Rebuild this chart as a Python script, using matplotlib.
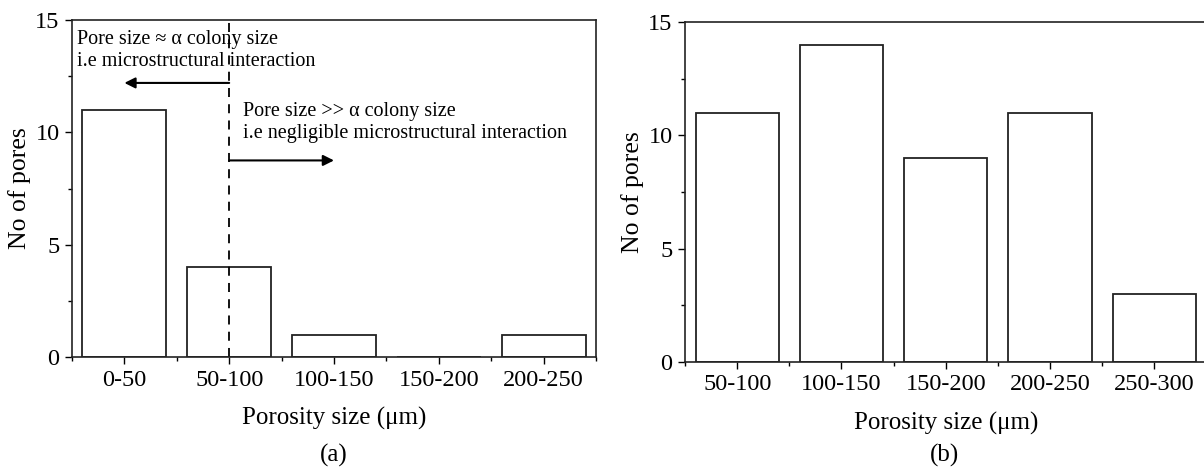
import matplotlib
matplotlib.use('Agg')
import matplotlib.pyplot as plt
from matplotlib.ticker import MultipleLocator, FixedLocator

plt.rcParams['font.family'] = ['Liberation Serif', 'DejaVu Serif']

# data
cats_a = ['0-50', '50-100', '100-150', '150-200', '200-250']
pores_a = [11, 4, 1, 0, 1]

cats_b = ['50-100', '100-150', '150-200', '200-250', '250-300']
pores_b = [11, 14, 9, 11, 3]

divider_x = 1
arrow_left_y = 12.2
arrow_right_y = 8.75

fig = plt.figure(figsize=(12.04, 4.70), dpi=100)

ax1 = fig.add_axes([0.0598, 0.2404, 0.4352, 0.717])
ax2 = fig.add_axes([0.569, 0.2298, 0.433, 0.723])


def style(ax, cats, vals):
    x = range(len(cats))
    ax.bar(x, vals, width=0.8, color='white', edgecolor='#222222', linewidth=1.3)
    ax.set_xlim(-0.5, len(cats) - 0.5)
    ax.set_ylim(0, 15)
    ax.set_xticks(list(x))
    ax.set_xticklabels(cats)
    ax.xaxis.set_minor_locator(FixedLocator([i + 0.5 for i in range(-1, len(cats))]))
    ax.yaxis.set_major_locator(MultipleLocator(5))
    ax.yaxis.set_minor_locator(MultipleLocator(2.5))
    ax.tick_params(which='major', direction='out', length=5, width=1, labelsize=17.5, pad=4)
    ax.tick_params(which='minor', direction='out', length=3, width=1)
    for s in ax.spines.values():
        s.set_linewidth(1.2)
        s.set_color('#222222')
    ax.set_xlabel('Porosity size (\u03bcm)', fontsize=18, labelpad=12)
    ax.set_ylabel('No of pores', fontsize=18.5, labelpad=3)


style(ax1, cats_a, pores_a)
style(ax2, cats_b, pores_b)

# divider and annotations in panel (a)
ax1.axvline(divider_x, color='black', linestyle=(0, (5, 4)), linewidth=1.3)
ax1.annotate('', xy=(0.0, arrow_left_y), xytext=(divider_x, arrow_left_y),
             arrowprops=dict(arrowstyle='-|>', color='black', lw=1.5, mutation_scale=16, shrinkA=0, shrinkB=0))
ax1.annotate('', xy=(2.0, arrow_right_y), xytext=(divider_x, arrow_right_y),
             arrowprops=dict(arrowstyle='-|>', color='black', lw=1.5, mutation_scale=16, shrinkA=0, shrinkB=0))
ax1.text(-0.45, 14.15, 'Pore size \u2248 \u03b1 colony size', fontsize=14.5, va='center', ha='left')
ax1.text(-0.45, 13.15, 'i.e microstructural interaction', fontsize=14.5, va='center', ha='left')
ax1.text(1.13, 10.95, 'Pore size >> \u03b1 colony size', fontsize=14.5, va='center', ha='left')
ax1.text(1.13, 9.95, 'i.e negligible microstructural interaction', fontsize=14.5, va='center', ha='left')

fig.text(334 / 1204, 1 - 455 / 470, '(a)', fontsize=18, ha='center', va='center')
fig.text(945 / 1204, 1 - 455 / 470, '(b)', fontsize=18, ha='center', va='center')

fig.savefig('out.png', dpi=100)
